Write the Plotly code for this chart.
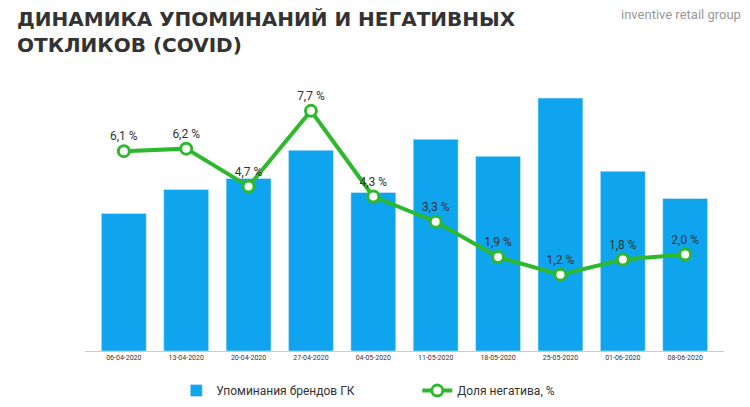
import plotly.graph_objects as go

dates = ["06-04-2020", "13-04-2020", "20-04-2020", "27-04-2020", "04-05-2020",
         "11-05-2020", "18-05-2020", "25-05-2020", "01-06-2020", "08-06-2020"]
mentions = [137, 161, 172, 200, 158, 211, 194, 252, 179, 152]
negative_share = [6.1, 6.2, 4.7, 7.7, 4.3, 3.3, 1.9, 1.2, 1.8, 2.0]
labels = [f"{v:.1f} %".replace(".", ",") for v in negative_share]

fig = go.Figure()
fig.add_trace(go.Bar(x=dates, y=mentions, name="Упоминания брендов ГК",
                     marker_color="#0ea5ee", yaxis="y"))
fig.add_trace(go.Scatter(x=dates, y=negative_share, name="Доля негатива, %",
                         mode="lines+markers+text", text=labels,
                         textposition="top center",
                         textfont=dict(size=12, color="#333"),
                         line=dict(color="#2eb82e", width=4),
                         marker=dict(size=11, color="white",
                                     line=dict(color="#2eb82e", width=3)),
                         yaxis="y2"))

fig.update_layout(
    width=750, height=407,
    margin=dict(l=77, r=34, t=62, b=64, autoexpand=False),
    plot_bgcolor="white", paper_bgcolor="white",
    font=dict(family="Roboto", color="#333"),
    bargap=0.28,
    xaxis=dict(tickfont=dict(size=7, color="#333"), showline=True,
               linecolor="#ccc", ticks="", automargin=False),
    yaxis=dict(range=[0, 280], visible=False),
    yaxis2=dict(range=[-1.83, 9.32], overlaying="y", visible=False),
    legend=dict(orientation="h", x=0.52, xanchor="center", y=0.06,
                yref="container", yanchor="middle", font=dict(size=12),
                traceorder="normal", entrywidth=196, entrywidthmode="pixels"),
    annotations=[
        dict(text="<b>ДИНАМИКА УПОМИНАНИЙ И НЕГАТИВНЫХ<br>ОТКЛИКОВ (COVID)</b>",
             xref="paper", yref="paper", x=-0.11, y=1.23, xanchor="left",
             yanchor="top", align="left", showarrow=False,
             font=dict(family="DejaVu Sans", size=20, color="#333")),
        dict(text="inventive retail group", xref="paper", yref="paper",
             x=1.03, y=1.23, xanchor="right", yanchor="top", showarrow=False,
             font=dict(size=13, color="#999")),
    ],
)
fig.write_html("out.html")
